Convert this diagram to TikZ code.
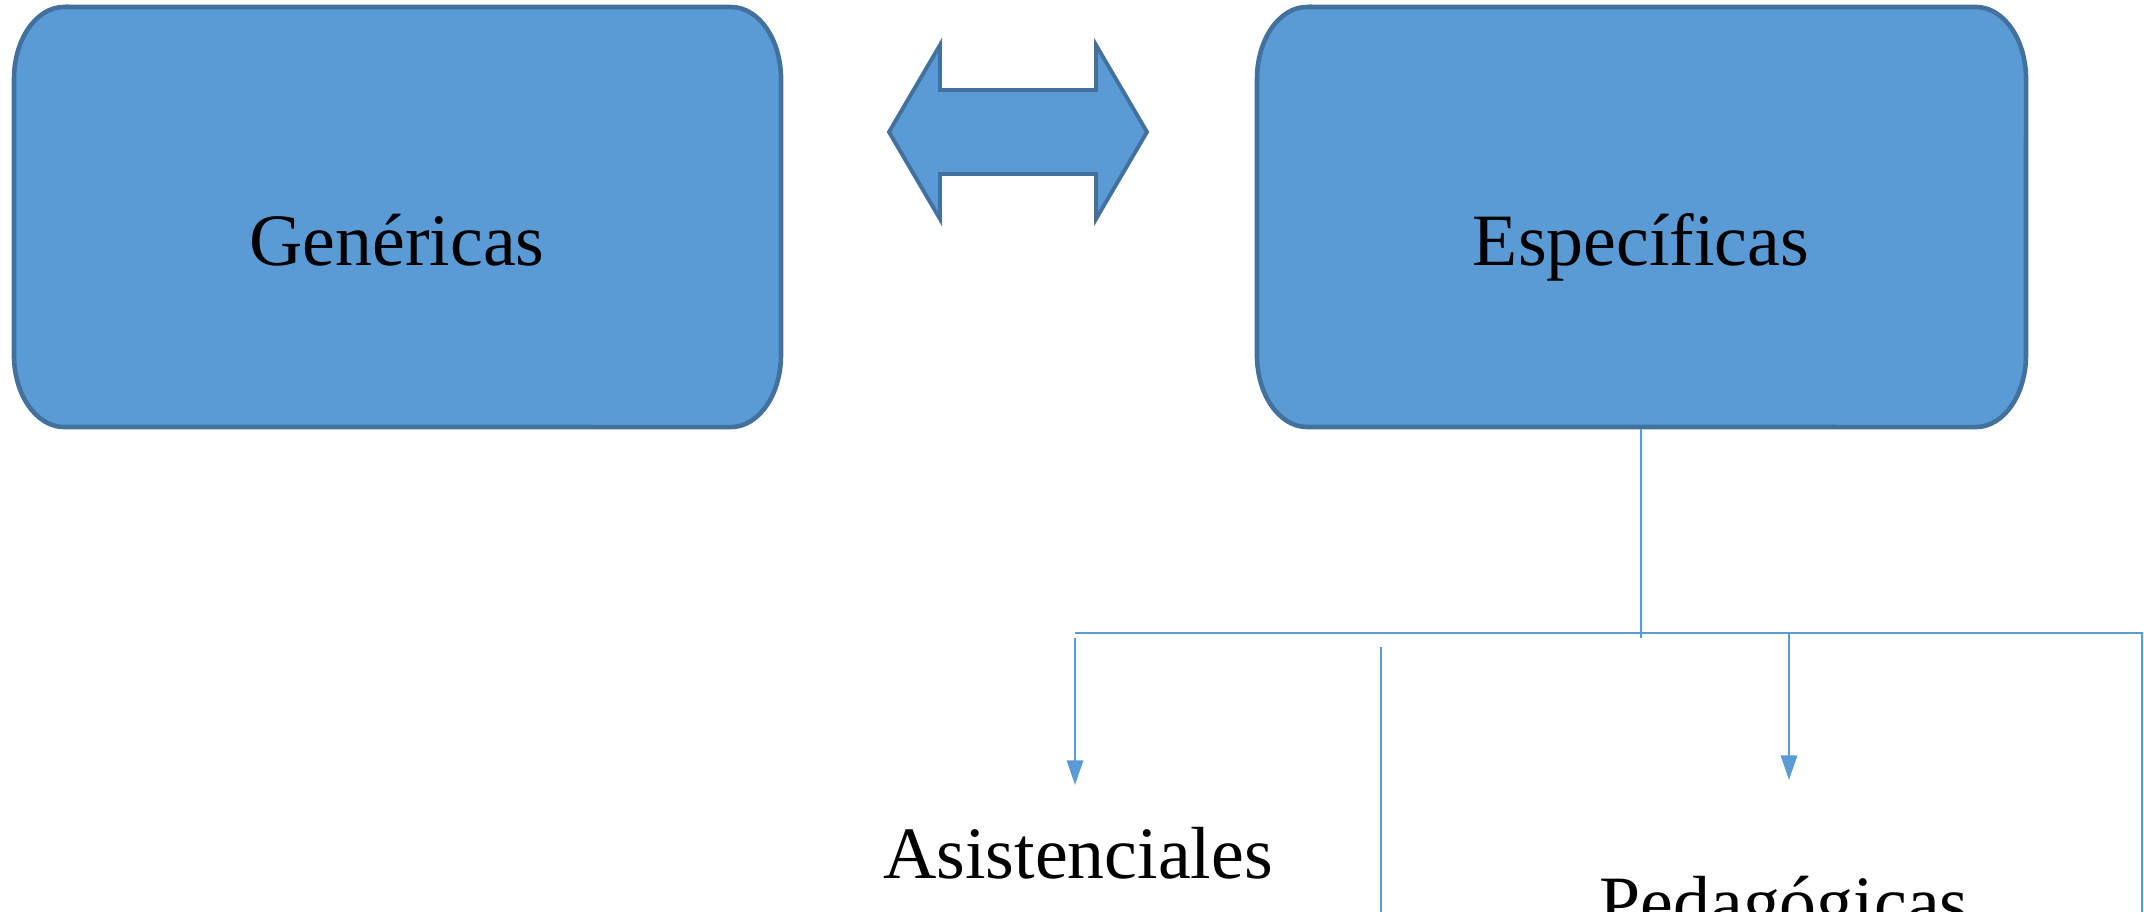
\documentclass[tikz,border=0pt]{standalone}
\usepackage{fontspec}
\setmainfont{Liberation Serif}
\usetikzlibrary{arrows.meta}
\definecolor{boxfill}{HTML}{5B9BD5}
\definecolor{boxline}{HTML}{41719C}
\tikzset{
  shapebox/.style={fill=boxfill, draw=boxline, line width=1.3pt},
  wire/.style={draw=boxfill, line width=0.7pt},
  tip/.style={wire, -{Triangle[length=7pt,width=4.6pt]}},
  word/.style={anchor=base, inner sep=0pt, font=\fontsize{21}{25}\selectfont}
}
\begin{document}
\begin{tikzpicture}[x=0.01cm, y=0.01cm]
\clip (0,0) rectangle (2144,-912);
\filldraw[shapebox] (64,-7)--(731,-7) arc[start angle=90,end angle=0,x radius=0.5cm,y radius=0.72cm]
--(781,-355) arc[start angle=0,end angle=-90,x radius=0.5cm,y radius=0.72cm]
--(64,-427) arc[start angle=270,end angle=180,x radius=0.5cm,y radius=0.72cm]
--(14,-79) arc[start angle=180,end angle=90,x radius=0.5cm,y radius=0.72cm]--cycle;
\filldraw[shapebox] (1307,-7)--(1976,-7) arc[start angle=90,end angle=0,x radius=0.5cm,y radius=0.72cm]
--(2026,-355) arc[start angle=0,end angle=-90,x radius=0.5cm,y radius=0.72cm]
--(1307,-427) arc[start angle=270,end angle=180,x radius=0.5cm,y radius=0.72cm]
--(1257,-79) arc[start angle=180,end angle=90,x radius=0.5cm,y radius=0.72cm]--cycle;
% double arrow between the boxes
\filldraw[shapebox, line width=1.1pt] (889,-132)--(940,-45)--(940,-90)--(1096,-90)--(1096,-45)
--(1147,-132)--(1096,-219)--(1096,-174)--(940,-174)--(940,-219)--cycle;
\node[word] (gen) at (397,-265) {Genéricas};
\node[word] (esp) at (1641,-265) {Específicas};
\node[word] (asi) at (1078,-878) {Asistenciales};
\node[word] (ped) at (1784,-927) {Pedagógicas};
\coordinate (espbot) at (1641,-429);
\coordinate (join) at (1641,-638);
\coordinate (busL) at (1075,-633);
\coordinate (busR) at (2142,-633);
\coordinate (endR) at (2142,-912);
\coordinate (asitop) at (1075,-638);
\coordinate (asitip) at (1075,-785);
\coordinate (pedtop) at (1789,-633);
\coordinate (pedtip) at (1789,-780);
\coordinate (midtop) at (1381,-647);
\coordinate (midend) at (1381,-912);
\draw[wire] (espbot)--(join);
\draw[wire] (busL)--(busR)--(endR);
\draw[tip] (asitop)--(asitip);
\draw[tip] (pedtop)--(pedtip);
\draw[wire] (midtop)--(midend);
\end{tikzpicture}
\end{document}
